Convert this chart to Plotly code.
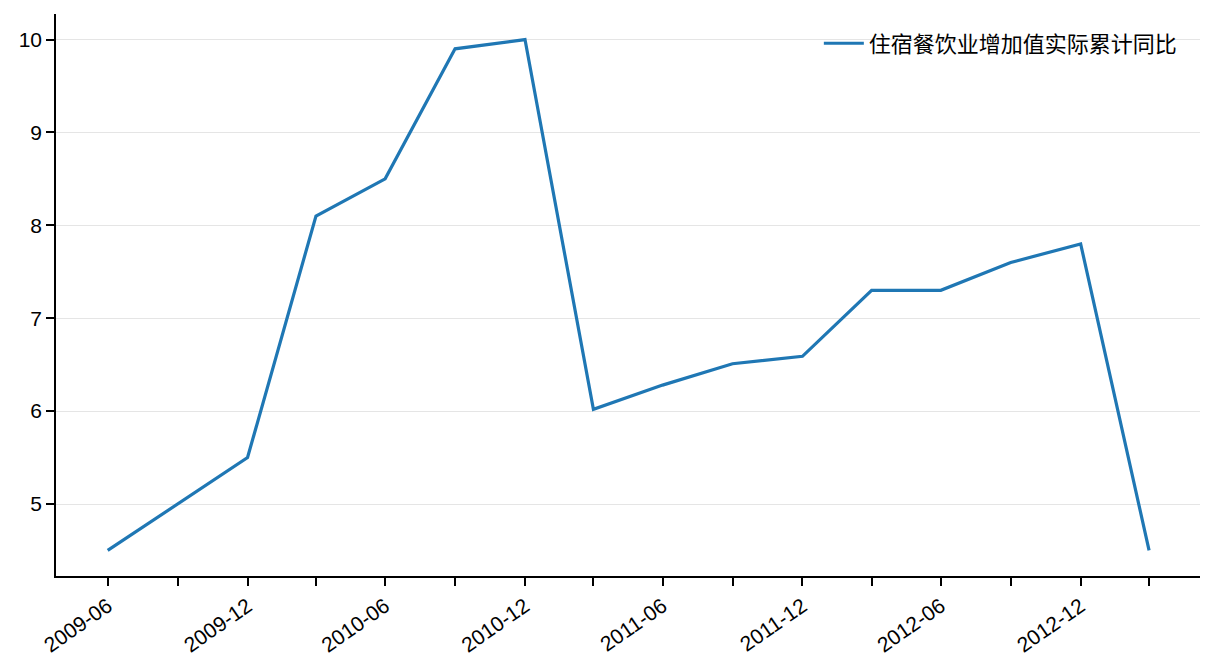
import plotly.graph_objects as go

# 住宿餐饮业增加值实际累计同比 (quarterly)
dates = ['2009-06-30', '2009-09-30', '2009-12-31', '2010-03-31', '2010-06-30', '2010-09-30',
         '2010-12-31', '2011-03-31', '2011-06-30', '2011-09-30', '2011-12-31', '2012-03-31',
         '2012-06-30', '2012-09-30', '2012-12-31', '2013-03-31']
values = [4.5, 5.0, 5.5, 8.1, 8.5, 9.9, 10.0, 6.02, 6.28, 6.51, 6.59, 7.3, 7.3, 7.6, 7.8, 4.5]
series_name = '住宿餐饮业增加值实际累计同比'
tick_labels = [d[:7] if i % 2 == 0 else '' for i, d in enumerate(dates)]

fig = go.Figure()
fig.add_trace(go.Scatter(x=dates, y=values, mode='lines', name=series_name,
                         line=dict(color='#1f77b4', width=3.2)))

fig.update_layout(
    width=1216, height=672,
    margin=dict(l=48, r=24, t=6, b=104),
    paper_bgcolor='white', plot_bgcolor='white',
    font=dict(family='Liberation Sans, Arial, Noto Sans CJK SC', size=21, color='black'),
    legend=dict(x=0.985, y=0.985, xanchor='right', yanchor='top', bgcolor='rgba(0,0,0,0)',
                itemwidth=40,
                font=dict(family='Noto Sans CJK SC, Liberation Sans', size=22)),
    showlegend=True,
)
fig.update_xaxes(
    type='date', range=['2009-04-23', '2013-06-06'],
    tickmode='array', tickvals=dates, ticktext=tick_labels, tickangle=-35,
    showline=True, linecolor='black', linewidth=1.5, mirror=False,
    ticks='outside', ticklen=8, tickwidth=1.5, tickcolor='black',
    showgrid=False, zeroline=False,
)
fig.update_yaxes(
    range=[4.225, 10.275], tickvals=[5, 6, 7, 8, 9, 10],
    showline=True, linecolor='black', linewidth=1.5,
    ticks='outside', ticklen=8, tickwidth=1.5, tickcolor='black',
    showgrid=True, gridcolor='#e5e5e5', gridwidth=1.3, zeroline=False,
)

fig.write_html("out.html")
